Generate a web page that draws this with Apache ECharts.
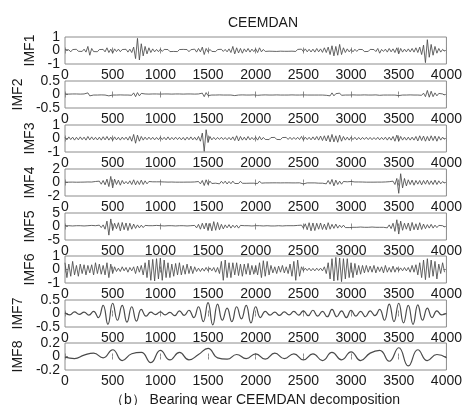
<!DOCTYPE html>
<html>
<head>
<meta charset="utf-8">
<script src="https://cdn.jsdelivr.net/npm/echarts@6/dist/echarts.min.js"></script>
<style>
  html, body { margin: 0; padding: 0; background: #fff; }
  #chart { width: 465px; height: 405px; }
</style>
</head>
<body>
<div id="chart"></div>
<script>
// CEEMDAN decomposition of a bearing-wear vibration signal: eight IMFs, 4000 samples each.
// Each IMF is stored as values at a fixed sample step (sample index = i * step).

const sampleTicks = [0, 500, 1000, 1500, 2000, 2500, 3000, 3500, 4000];
const imfNames = ['IMF1', 'IMF2', 'IMF3', 'IMF4', 'IMF5', 'IMF6', 'IMF7', 'IMF8'];
const imfYMin = [-1, -0.5, -1, -2, -5, -1, -0.5, -0.2];
const imfYMax = [1, 0.5, 1, 2, 5, 1, 0.5, 0.2];
const imfYInterval = [1, 0.5, 1, 2, 5, 1, 0.5, 0.2];
const imfStep = [20, 20, 20, 20, 20, 20, 50, 100];

const imf1 = [
  0.06,-0.08,0.05,-0.1,0.07,-0.05,0.09,-0.06,0.08,-0.07,0.1,-0.12,0.3,-0.35,0.15,-0.08,0.06,-0.09,0.07,-0.05,
  0.08,-0.1,0.2,-0.15,0.1,-0.2,0.12,-0.08,0.1,-0.09,0.07,-0.06,0.09,-0.12,0.1,-0.15,0.25,-0.6,0.9,-0.7,
  0.5,-0.4,0.3,-0.25,0.2,-0.15,0.12,-0.1,0.08,-0.09,0.1,-0.07,0.08,-0.06,0.07,-0.08,0.05,-0.07,0.06,-0.08,
  0.07,-0.06,0.08,-0.05,0.07,-0.09,0.06,-0.08,0.1,-0.12,0.15,-0.1,0.25,-0.3,0.15,-0.1,0.08,-0.07,0.06,-0.08,
  0.07,-0.06,0.09,-0.07,0.08,-0.1,0.12,-0.15,0.3,-0.25,0.2,-0.18,0.15,-0.2,0.12,-0.1,0.15,-0.12,0.1,-0.08,
  0.12,-0.15,0.2,-0.1,0.08,-0.07,0.06,-0.05,0.07,-0.06,0.05,-0.07,0.06,-0.05,0.07,-0.06,0.05,-0.06,0.07,-0.05,
  0.06,-0.07,0.08,-0.06,0.1,-0.08,0.12,-0.1,0.09,-0.11,0.1,-0.12,0.15,-0.1,0.12,-0.14,0.2,-0.15,0.25,-0.3,
  0.35,-0.4,0.3,-0.35,0.45,-0.3,0.2,-0.15,0.12,-0.1,0.08,-0.1,0.09,-0.07,0.08,-0.06,0.07,-0.08,0.06,-0.07,
  0.08,-0.06,0.07,-0.08,0.15,-0.2,0.08,-0.07,0.1,-0.12,0.15,-0.1,0.12,-0.15,0.2,-0.25,0.15,-0.12,0.1,-0.1,
  0.12,-0.1,0.15,-0.12,0.2,-0.15,0.25,-0.3,0.4,-0.9,0.8,-0.5,0.45,-0.35,0.3,-0.2,0.15,-0.12,0.08,-0.06
];
const imf2 = [
  0.02,-0.02,0.015,-0.02,0.02,-0.015,0.02,-0.02,0.015,-0.02,0.02,-0.03,0.06,-0.05,0.02,-0.02,0.015,-0.02,0.02,-0.015,
  0.02,-0.02,0.03,-0.05,0.02,-0.02,0.015,-0.02,0.02,-0.015,0.02,-0.02,0.015,-0.02,0.02,-0.03,0.06,-0.08,0.07,-0.05,
  0.04,-0.03,0.02,-0.02,0.015,-0.02,0.02,-0.015,0.02,-0.02,0.015,-0.02,0.02,-0.015,0.02,-0.02,0.015,-0.02,0.02,-0.015,
  0.02,-0.02,0.015,-0.02,0.02,-0.015,0.02,-0.02,0.015,-0.02,0.02,-0.03,0.05,-0.08,0.07,-0.04,0.02,-0.02,0.015,-0.02,
  0.02,-0.015,0.02,-0.02,0.015,-0.02,0.02,-0.02,0.03,-0.04,0.03,-0.02,0.02,-0.015,0.02,-0.02,0.015,-0.02,0.02,-0.015,
  0.02,-0.03,0.04,-0.02,0.02,-0.015,0.02,-0.02,0.015,-0.02,0.02,-0.015,0.02,-0.02,0.03,-0.02,0.015,-0.02,0.02,-0.015,
  0.02,-0.02,0.015,-0.02,0.02,-0.015,0.02,-0.02,0.015,-0.02,0.02,-0.02,0.015,-0.02,0.02,-0.02,0.02,-0.03,0.04,-0.05,
  0.06,-0.05,0.03,-0.04,0.05,-0.03,0.02,-0.02,0.015,-0.02,0.02,-0.015,0.02,-0.02,0.015,-0.02,0.02,-0.015,0.02,-0.02,
  0.015,-0.02,0.02,-0.015,0.03,-0.03,0.02,-0.02,0.015,-0.02,0.02,-0.02,0.015,-0.02,0.03,-0.04,0.02,-0.02,0.015,-0.02,
  0.02,-0.015,0.02,-0.02,0.03,-0.02,0.02,-0.03,0.05,-0.08,0.15,-0.1,0.12,-0.08,0.06,-0.05,0.04,-0.03,0.02,-0.02
];
const imf3 = [
  0.08,-0.1,0.12,-0.08,0.1,-0.12,0.09,-0.1,0.12,-0.09,0.1,-0.12,0.15,-0.1,0.12,-0.1,0.09,-0.11,0.1,-0.12,
  0.13,-0.1,0.15,-0.12,0.1,-0.14,0.12,-0.1,0.09,-0.12,0.1,-0.08,0.1,-0.12,0.15,-0.2,0.3,-0.35,0.25,-0.2,
  0.15,-0.12,0.1,-0.09,0.1,-0.08,0.09,-0.1,0.08,-0.09,0.1,-0.08,0.09,-0.1,0.12,-0.1,0.08,-0.09,0.1,-0.08,
  0.09,-0.1,0.08,-0.12,0.1,-0.09,0.12,-0.1,0.09,-0.12,0.15,-0.2,0.4,-0.95,0.65,-0.3,0.15,-0.1,0.08,-0.09,
  0.08,-0.07,0.09,-0.08,0.07,-0.09,0.08,-0.1,0.12,-0.15,0.2,-0.18,0.15,-0.12,0.1,-0.12,0.15,-0.1,0.08,-0.09,
  0.1,-0.12,0.15,-0.1,0.08,-0.07,0.06,-0.08,0.07,-0.06,0.08,-0.07,0.06,-0.08,0.07,-0.06,0.08,-0.07,0.09,-0.08,
  0.08,-0.07,0.09,-0.08,0.15,-0.12,0.1,-0.08,0.09,-0.1,0.12,-0.1,0.15,-0.12,0.18,-0.15,0.2,-0.18,0.22,-0.25,
  0.3,-0.25,0.2,-0.28,0.25,-0.2,0.15,-0.12,0.1,-0.12,0.1,-0.08,0.09,-0.1,0.08,-0.09,0.08,-0.07,0.09,-0.08,
  0.08,-0.09,0.07,-0.08,0.09,-0.1,0.08,-0.09,0.1,-0.12,0.1,-0.12,0.15,-0.2,0.25,-0.2,0.15,-0.12,0.1,-0.12,
  0.1,-0.12,0.1,-0.12,0.15,-0.18,0.2,-0.15,0.18,-0.2,0.15,-0.18,0.2,-0.15,0.18,-0.2,0.15,-0.12,0.1,-0.08
];
const imf4 = [
  0.05,-0.06,0.05,-0.04,0.06,-0.05,0.04,-0.06,0.05,-0.05,0.06,-0.07,0.08,-0.06,0.07,-0.1,0.15,-0.12,0.2,-0.25,
  0.3,-0.35,0.5,-0.6,0.9,-0.8,0.5,-0.3,0.35,-0.4,0.3,-0.2,0.15,-0.2,0.25,-0.3,0.4,-0.35,0.25,-0.3,
  0.35,-0.3,0.25,-0.2,0.15,-0.12,0.1,-0.12,0.1,-0.08,0.1,-0.09,0.08,-0.07,0.06,-0.08,0.07,-0.06,0.05,-0.06,
  0.05,-0.06,0.05,-0.05,0.06,-0.05,0.06,-0.07,0.08,-0.1,0.15,-0.2,0.3,-0.45,0.4,-0.3,0.2,-0.15,0.12,-0.1,
  0.15,-0.2,0.18,-0.15,0.2,-0.22,0.15,-0.18,0.2,-0.15,0.12,-0.15,0.18,-0.12,0.1,-0.12,0.15,-0.1,0.08,-0.1,
  0.1,-0.15,0.2,-0.1,0.08,-0.06,0.05,-0.06,0.05,-0.05,0.06,-0.05,0.05,-0.06,0.05,-0.05,0.06,-0.05,0.05,-0.06,
  0.05,-0.06,0.05,-0.05,0.15,-0.2,0.08,-0.06,0.05,-0.06,0.07,-0.06,0.08,-0.1,0.12,-0.1,0.15,-0.2,0.3,-0.25,
  0.45,-0.5,0.35,-0.3,0.2,-0.25,0.15,-0.12,0.1,-0.12,0.15,-0.1,0.08,-0.1,0.08,-0.06,0.07,-0.06,0.05,-0.06,
  0.05,-0.06,0.05,-0.05,0.06,-0.05,0.06,-0.07,0.08,-0.1,0.12,-0.15,0.2,-0.3,0.6,-1.6,1.3,-0.8,0.6,-0.5,
  0.4,-0.3,0.35,-0.4,0.3,-0.25,0.3,-0.35,0.3,-0.25,0.35,-0.3,0.25,-0.3,0.35,-0.3,0.25,-0.2,0.15,-0.1
];
const imf5 = [
  0.3,-0.2,0.3,-0.3,0.2,-0.3,0.3,-0.2,0.3,-0.3,0.2,-0.3,0.3,-0.2,0.4,-0.3,0.3,-0.4,0.5,-0.4,
  0.6,-1.0,2.0,-3.2,2.8,-1.5,1.2,-0.8,1.4,-1.6,1.5,-1.2,1.3,-1.5,1.2,-1.0,0.9,-0.7,0.6,-0.5,
  0.5,-0.4,0.4,-0.3,0.3,-0.4,0.3,-0.3,0.4,-0.3,0.3,-0.3,0.2,-0.3,0.3,-0.2,0.3,-0.3,0.2,-0.3,
  0.3,-0.2,0.3,-0.3,0.2,-0.3,0.3,-0.3,0.4,-0.5,0.8,-1.0,1.2,-0.9,1.3,-1.5,1.2,-1.6,1.8,-1.4,
  1.5,-1.2,0.8,-0.9,0.6,-0.5,0.7,-0.6,0.5,-0.4,0.5,-0.6,0.4,-0.3,0.3,-0.4,0.3,-0.3,0.2,-0.3,
  0.3,-0.2,0.3,-0.3,0.2,-0.2,0.3,-0.2,0.2,-0.3,0.2,-0.2,0.3,-0.2,0.2,-0.3,0.3,-0.2,0.3,-0.3,
  0.3,-0.3,0.4,-0.3,0.5,-0.6,1.0,-1.2,1.4,-1.6,1.3,-1.5,1.2,-1.0,1.3,-1.1,0.9,-1.2,1.4,-1.0,
  0.8,-0.7,0.9,-0.6,0.5,-0.4,0.5,-0.4,0.3,-0.4,0.3,-0.3,0.4,-0.3,0.3,-0.2,0.3,-0.3,0.2,-0.3,
  0.3,-0.2,0.3,-0.3,0.2,-0.3,0.3,-0.3,0.4,-0.5,0.6,-0.8,1.2,-1.8,2.5,-2.8,2.0,-1.4,1.2,-1.0,
  1.3,-1.6,1.5,-1.2,1.0,-1.3,1.4,-1.1,0.9,-0.8,0.7,-0.6,0.8,-0.6,0.5,-0.4,0.4,-0.3,0.3,-0.2
];
const imf6 = [
  0.5,-0.6,0.4,-0.5,0.6,-0.4,0.3,-0.5,0.4,-0.3,0.35,-0.4,0.3,-0.25,0.35,-0.4,0.5,-0.3,0.4,-0.35,
  0.3,-0.4,0.5,-0.6,0.4,-0.3,0.2,-0.15,0.1,-0.15,0.2,-0.1,0.15,-0.2,0.15,-0.1,0.2,-0.3,0.25,-0.2,
  0.3,-0.4,0.5,-0.6,0.7,-0.8,0.75,-0.85,0.8,-0.7,0.85,-0.8,0.7,-0.6,0.5,-0.6,0.4,-0.5,0.45,-0.4,
  0.5,-0.4,0.3,-0.35,0.4,-0.3,0.25,-0.3,0.2,-0.15,0.1,-0.15,0.1,-0.12,0.15,-0.1,0.12,-0.1,0.15,-0.2,
  0.15,-0.3,0.6,-0.8,0.7,-0.6,0.5,-0.6,0.5,-0.4,0.5,-0.45,0.4,-0.5,0.4,-0.35,0.45,-0.4,0.3,-0.35,
  0.3,-0.4,0.5,-0.6,0.65,-0.5,0.6,-0.4,0.3,-0.25,0.2,-0.3,0.25,-0.2,0.3,-0.25,0.2,-0.3,0.4,-0.5,
  0.6,-0.8,0.7,-0.5,0.2,-0.1,0.1,-0.08,0.1,-0.1,0.08,-0.1,0.1,-0.08,0.1,-0.1,0.2,-0.3,0.5,-0.7,
  0.8,-0.85,0.9,-0.8,0.85,-0.9,0.8,-0.7,0.8,-0.6,0.5,-0.6,0.45,-0.4,0.3,-0.35,0.3,-0.25,0.3,-0.2,
  0.25,-0.2,0.3,-0.25,0.2,-0.15,0.2,-0.25,0.3,-0.2,0.15,-0.2,0.25,-0.2,0.15,-0.1,0.12,-0.1,0.15,-0.1,
  0.15,-0.2,0.3,-0.2,0.35,-0.4,0.5,-0.6,0.7,-0.75,0.8,-0.6,0.7,-0.5,0.6,-0.7,0.4,-0.3,0.5,-0.2
];
const imf7 = [
  0.03,-0.05,0.06,-0.03,0.05,-0.06,0.08,-0.15,0.3,-0.4,
  0.38,-0.25,0.3,-0.32,0.25,-0.28,0.15,-0.1,0.05,-0.04,
  0.06,-0.05,0.04,-0.08,0.1,-0.07,0.12,-0.15,0.25,-0.3,
  0.4,-0.42,0.35,-0.25,0.2,-0.3,0.25,-0.2,0.3,-0.35,
  0.25,-0.15,0.08,-0.06,0.05,-0.07,0.06,-0.05,0.08,-0.06,
  0.1,-0.08,0.12,-0.1,0.08,-0.12,0.15,-0.12,0.1,-0.15,
  0.12,-0.1,0.08,-0.12,0.1,-0.08,0.15,-0.25,0.35,-0.3,
  0.38,-0.35,0.3,-0.4,0.32,-0.25,0.2,-0.15,0.1,-0.05,
  0.0
];
const imf8 = [
  -0.01,-0.03,0.02,0.05,-0.02,0.1,-0.06,0.04,0.06,-0.09,
  0.09,-0.05,0.06,-0.05,0.03,0.12,-0.02,-0.04,0.03,-0.03,
  0.04,-0.04,0.05,-0.03,0.04,-0.05,0.04,-0.06,0.06,-0.05,
  0.07,-0.06,0.05,0.09,-0.07,0.13,-0.14,0.1,-0.06,0.03,
  -0.02
];
const imfValues = [imf1, imf2, imf3, imf4, imf5, imf6, imf7, imf8];

// layout (pixels)
const plotLeft = 65, plotWidth = 386, plotHeight = 27;
const plotTops = [37, 81, 125, 169, 213, 256, 300, 343];
const nameGaps = [27, 38, 27, 27, 27, 27, 38, 38];

const textColor = '#1a1a1a';
const frameColor = '#8c8c8c';
const traceColor = '#4a4a4a';
const font = 'Liberation Sans, Arial, sans-serif';
const plainNumber = v => String(Math.round(v * 1000) / 1000);
const labelText = { color: textColor, fontSize: 14, fontFamily: font };

const grids = [], xAxes = [], yAxes = [], series = [];
imfNames.forEach((name, k) => {
  grids.push({
    left: plotLeft, top: plotTops[k], width: plotWidth, height: plotHeight,
    show: true, borderColor: frameColor, borderWidth: 1, backgroundColor: 'transparent'
  });
  const tickStyle = { show: true, inside: true, length: 3, lineStyle: { color: frameColor, width: 1 } };
  const xRange = {
    type: 'value', gridIndex: k, min: sampleTicks[0], max: sampleTicks[sampleTicks.length - 1],
    interval: sampleTicks[1] - sampleTicks[0],
    axisLine: { show: false }, axisTick: tickStyle, splitLine: { show: false }
  };
  // bottom axis with labels, top axis with ticks only
  xAxes.push(Object.assign({}, xRange, {
    position: 'bottom',
    axisLabel: Object.assign({ margin: 4, formatter: plainNumber }, labelText)
  }));
  xAxes.push(Object.assign({}, xRange, { position: 'top', axisLabel: { show: false } }));

  // left side: one axis carries the end labels and the name, a second one carries the zero label,
  // so the tightly packed labels of a short panel are all kept; right side has ticks only
  const yRange = {
    type: 'value', gridIndex: k, min: imfYMin[k], max: imfYMax[k], interval: imfYInterval[k],
    axisLine: { show: false }, splitLine: { show: false }
  };
  yAxes.push(Object.assign({}, yRange, {
    position: 'left', name: name, nameLocation: 'middle', nameRotate: 90, nameGap: nameGaps[k],
    nameTextStyle: labelText, axisTick: { show: false },
    axisLabel: Object.assign({ margin: 5, formatter: plainNumber,
      customValues: [imfYMin[k], imfYMax[k]] }, labelText)
  }));
  yAxes.push(Object.assign({}, yRange, {
    position: 'left',
    axisTick: Object.assign({ customValues: [0] }, tickStyle),
    axisLabel: Object.assign({ margin: 5, formatter: plainNumber, customValues: [0] }, labelText)
  }));
  yAxes.push(Object.assign({}, yRange, {
    position: 'right', axisTick: Object.assign({ customValues: [0] }, tickStyle),
    axisLabel: { show: false }
  }));
  const step = imfStep[k];
  series.push({
    type: 'line', name: name, xAxisIndex: 2 * k, yAxisIndex: 3 * k,
    data: imfValues[k].map((v, i) => [i * step, v]),
    showSymbol: false, symbol: 'none', silent: true, animation: false,
    smooth: k >= 6 ? 0.5 : false,
    lineStyle: { color: traceColor, width: k >= 6 ? 1.2 : 0.85 }
  });
});

const chart = echarts.init(document.getElementById('chart'), null, { renderer: 'canvas' });
chart.setOption({
  backgroundColor: '#fff',
  animation: false,
  title: [
    { text: 'CEEMDAN', left: 258, top: 11, textAlign: 'center',
      textStyle: { color: textColor, fontSize: 14, fontWeight: 'normal', fontFamily: font } },
    { text: '（b） Bearing wear CEEMDAN decomposition', left: 250, top: 388, textAlign: 'center',
      textStyle: { color: textColor, fontSize: 14, fontWeight: 'normal', fontFamily: font } }
  ],
  grid: grids,
  xAxis: xAxes,
  yAxis: yAxes,
  series: series
});
</script>
</body>
</html>
